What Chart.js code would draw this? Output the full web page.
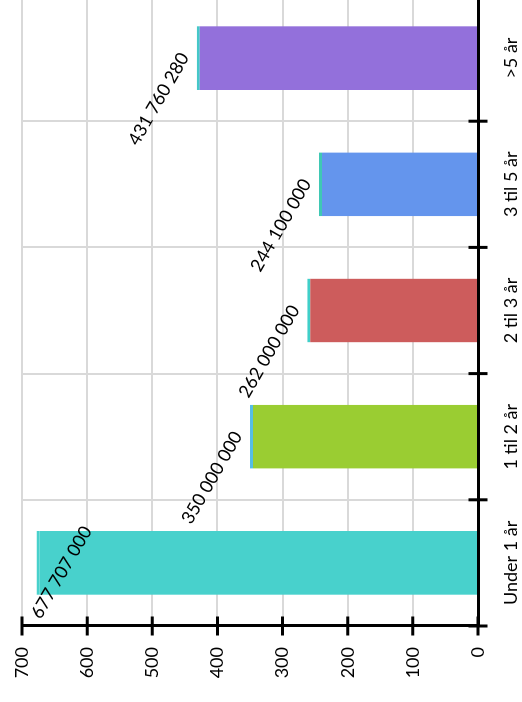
<!DOCTYPE html>
<html>
<head>
<meta charset="utf-8">
<script src="https://cdn.jsdelivr.net/npm/chart.js@4/dist/chart.umd.min.js"></script>
<style>
  html, body { margin: 0; padding: 0; background: #ffffff; }
  #frame { position: absolute; left: 0; top: 0; width: 522px; height: 702px; overflow: hidden; background: #ffffff; }
  /* the chart is laid out landscape and turned a quarter turn anticlockwise */
  #chart { position: absolute; left: 0; top: 0; transform-origin: 0 0; transform: translate(0px, 702px) rotate(-90deg); }
</style>
</head>
<body>
<div id="frame"><canvas id="chart" width="708" height="522"></canvas></div>
<script>
// Age bands and their amounts
const categories = ['Under 1 år', '1 til 2 år', '2 til 3 år', '3 til 5 år', '>5 år'];
const amounts = [677707000, 350000000, 262000000, 244100000, 431760280];
// Value axis, shown in millions
const axisTicks = [0, 100, 200, 300, 400, 500, 600, 700];
const axisUnit = 1000000;

const fillColors = ['#48d1cc', '#9acd32', '#cd5c5c', '#6495ed', '#9370db'];
const edgeColors = ['#48d1cc', '#55bde6', '#40cfc9', '#3fc8b4', '#45c8c8'];
const FONT = { family: 'Lato, "Open Sans", sans-serif', size: 18 };

function groupDigits(n) {
  return String(n).replace(/\B(?=(\d{3})+(?!\d))/g, ' ');
}

// Short black tick marks that cross both axis lines
const crossTicks = {
  id: 'crossTicks',
  afterDraw(chart) {
    const { ctx, scales: { x, y } } = chart;
    const half = 9.5;
    ctx.save();
    ctx.strokeStyle = '#000000';
    ctx.lineWidth = 3;
    ctx.beginPath();
    axisTicks.forEach(t => {
      const py = y.getPixelForValue(t * axisUnit);
      ctx.moveTo(x.left - half, py);
      ctx.lineTo(x.left + half, py);
    });
    for (let i = 0; i < categories.length; i++) {
      const px = x.getPixelForValue(i - 0.5);
      ctx.moveTo(px, y.bottom - half);
      ctx.lineTo(px, y.bottom + half);
    }
    ctx.stroke();
    ctx.restore();
  }
};

// Slanted amount labels above each bar
const amountLabels = {
  id: 'amountLabels',
  afterDatasetsDraw(chart) {
    const { ctx, chartArea } = chart;
    const meta = chart.getDatasetMeta(0);
    const angle = Math.PI / 6;
    ctx.save();
    ctx.font = FONT.size + 'px ' + FONT.family;
    ctx.fillStyle = '#000000';
    ctx.textAlign = 'center';
    ctx.textBaseline = 'middle';
    meta.data.forEach((bar, i) => {
      const text = groupDigits(amounts[i]);
      const w = ctx.measureText(text).width;
      const h = FONT.size;
      let cx = bar.x - 41;
      let cy = bar.y - 38;
      const halfH = (w * Math.sin(angle) + h * Math.cos(angle)) / 2;
      const top = cy - halfH;
      const limit = chartArea.top + 6;
      if (top < limit) {
        const dy = limit - top;
        cy += dy;
        cx += dy * 0.5;
      }
      ctx.save();
      ctx.translate(cx, cy);
      ctx.rotate(angle);
      ctx.fillText(text, 0, 0);
      ctx.restore();
    });
    ctx.restore();
  }
};

new Chart(document.getElementById('chart'), {
  type: 'bar',
  data: {
    labels: categories,
    datasets: [{
      data: amounts,
      backgroundColor: fillColors,
      borderColor: edgeColors,
      borderWidth: { top: 3, right: 0, bottom: 0, left: 0 },
      borderSkipped: 'start',
      categoryPercentage: 1,
      barPercentage: 0.506
    }]
  },
  options: {
    responsive: false,
    animation: false,
    devicePixelRatio: 1,
    layout: { padding: { top: 22, left: 24, right: 1, bottom: 0 } },
    plugins: { legend: { display: false }, tooltip: { enabled: false } },
    scales: {
      x: {
        type: 'category',
        offset: true,
        afterFit(scale) {
          scale.height = 44;
          scale.paddingLeft = 0;
          scale.paddingRight = 0;
        },
        grid: { offset: true, color: '#d9d9d9', lineWidth: 2, drawTicks: false },
        border: { color: '#000000', width: 3 },
        ticks: { color: '#000000', font: FONT, padding: 22, maxRotation: 0, minRotation: 0 }
      },
      y: {
        min: 0,
        max: 700 * axisUnit,
        afterFit(scale) {
          scale.width = 52;
          scale.paddingTop = 0;
          scale.paddingBottom = 0;
        },
        afterBuildTicks(scale) {
          scale.ticks = axisTicks.map(t => ({ value: t * axisUnit }));
        },
        grid: { color: '#d9d9d9', lineWidth: 2, drawTicks: false },
        border: { color: '#000000', width: 3 },
        ticks: {
          color: '#000000',
          font: FONT,
          padding: 21,
          callback: v => String(Math.round(v / axisUnit))
        }
      }
    }
  },
  plugins: [crossTicks, amountLabels]
});
</script>
</body>
</html>
